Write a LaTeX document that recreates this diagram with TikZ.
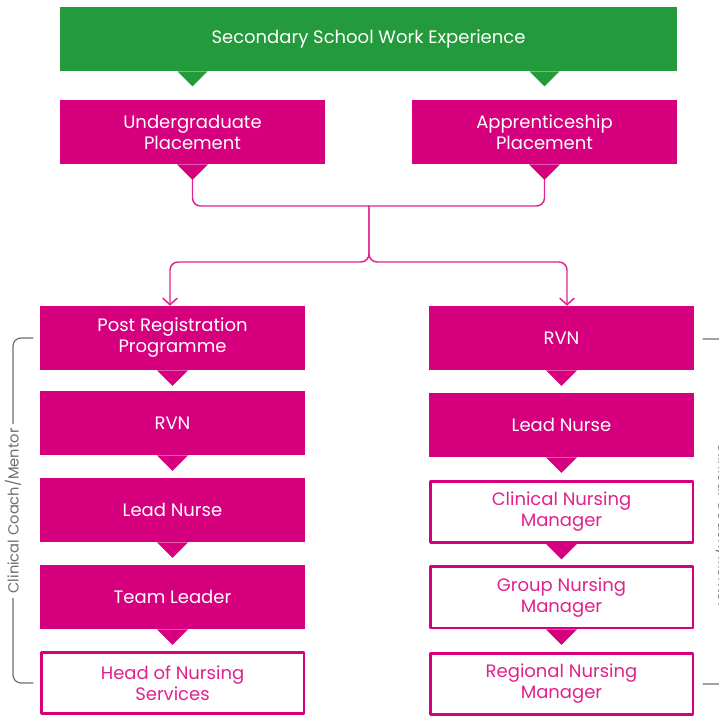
\documentclass[tikz,border=0pt]{standalone}
\usepackage{fontspec}
\setmainfont{Poppins}
\usetikzlibrary{arrows.meta,calc}
\definecolor{nhsmagenta}{HTML}{D6007F}
\definecolor{nhsgreen}{HTML}{239A3B}
\definecolor{pinktext}{HTML}{E0228C}
\definecolor{bracketgrey}{HTML}{6E6E6E}
\tikzset{
	pinkbox/.style={fill=nhsmagenta,text=white,minimum width=198.75pt,minimum height=48pt,inner sep=0pt,align=center},
	openbox/.style={pinkbox,fill=white,draw=nhsmagenta,line width=1.9pt,text=pinktext,minimum width=196.9pt,minimum height=46.1pt},
	link/.style={draw=pinktext,line width=1.1pt,rounded corners=6pt},
	bracket/.style={draw=bracketgrey,line width=0.9pt,rounded corners=6pt},
	side/.style={text=bracketgrey,font=\fontsize{11}{12}\selectfont,fill=white,inner sep=3pt}
}
\begin{document}
\begin{tikzpicture}[x=0.75pt,y=-0.75pt,line cap=round,line join=round,>={Straight Barb[length=5pt,width=11pt]},font=\fontsize{13.5}{15.75}\selectfont]
			\useasboundingbox (0,0) rectangle (719,716);
			\clip (0,0) rectangle (719,716);
			% top row
			\node[pinkbox,fill=nhsgreen,minimum width=462.75pt] (green) at (368.5,39) {Secondary School Work Experience};
			\node[pinkbox] (ug) at (192.5,132) {Undergraduate\\Placement};
			\node[pinkbox] (ap) at (544.5,132) {Apprenticeship\\Placement};
			% left column
			\node[pinkbox] (prp) at (172.5,338) {Post Registration\\Programme};
			\node[pinkbox] (rvnL) at (172.5,423) {RVN};
			\node[pinkbox] (leadL) at (172.5,510) {Lead Nurse};
			\node[pinkbox] (team) at (172.5,597) {Team Leader};
			\node[openbox] (head) at (172.5,683) {Head of Nursing\\Services};
			% right column
			\node[pinkbox] (rvnR) at (561.5,338) {RVN};
			\node[pinkbox] (leadR) at (561.5,425) {Lead Nurse};
			\node[openbox] (cnm) at (561.5,512) {Clinical Nursing\\Manager};
			\node[openbox] (gnm) at (561.5,597.5) {Group Nursing\\Manager};
			\node[openbox] (rnm) at (561.5,684) {Regional Nursing\\Manager};
			% pointers
			\foreach \n in {ug,ap}{
				\fill[nhsgreen] (\n.north |- green.south) ++(-15,0) -- ++(15,15) -- ++(15,-15) -- cycle;
			}
			\foreach \n in {ug,ap,prp,rvnL,leadL,team,rvnR,leadR,cnm,gnm}{
				\fill[nhsmagenta] (\n.south) ++(-15.5,0) -- ++(15.5,15.5) coordinate (\n-tip) -- ++(15.5,-15.5) -- cycle;
			}
			% connectors
			\coordinate (join) at (369,206);
			\coordinate (split) at (369,262);
			\draw[link] (ug-tip) |- (join) -| (ap-tip);
			\draw[link,->] (join) -- (split) -| ($(prp.north)+(-2.5,0)$);
			\draw[link,->] (join) -- (split) -| ($(rvnR.north)+(5.5,0)$);
			% brackets
			\coordinate (brL-top) at (33,338);
			\coordinate (brL-bot) at (33,683);
			\draw[bracket] (brL-top) -| (13,510) |- (brL-bot);
			\node[side,rotate=90] (coachL) at (13,511) {Clinical Coach/Mentor};
			\coordinate (brR-top) at (703,339);
			\coordinate (brR-bot) at (703,684);
			\draw[bracket] (brR-top) -| (732,511) |- (brR-bot);
			\node[side,rotate=-90] (coachR) at (724,525) {Clinical Coach/Mentor};
		\end{tikzpicture}
\end{document}
